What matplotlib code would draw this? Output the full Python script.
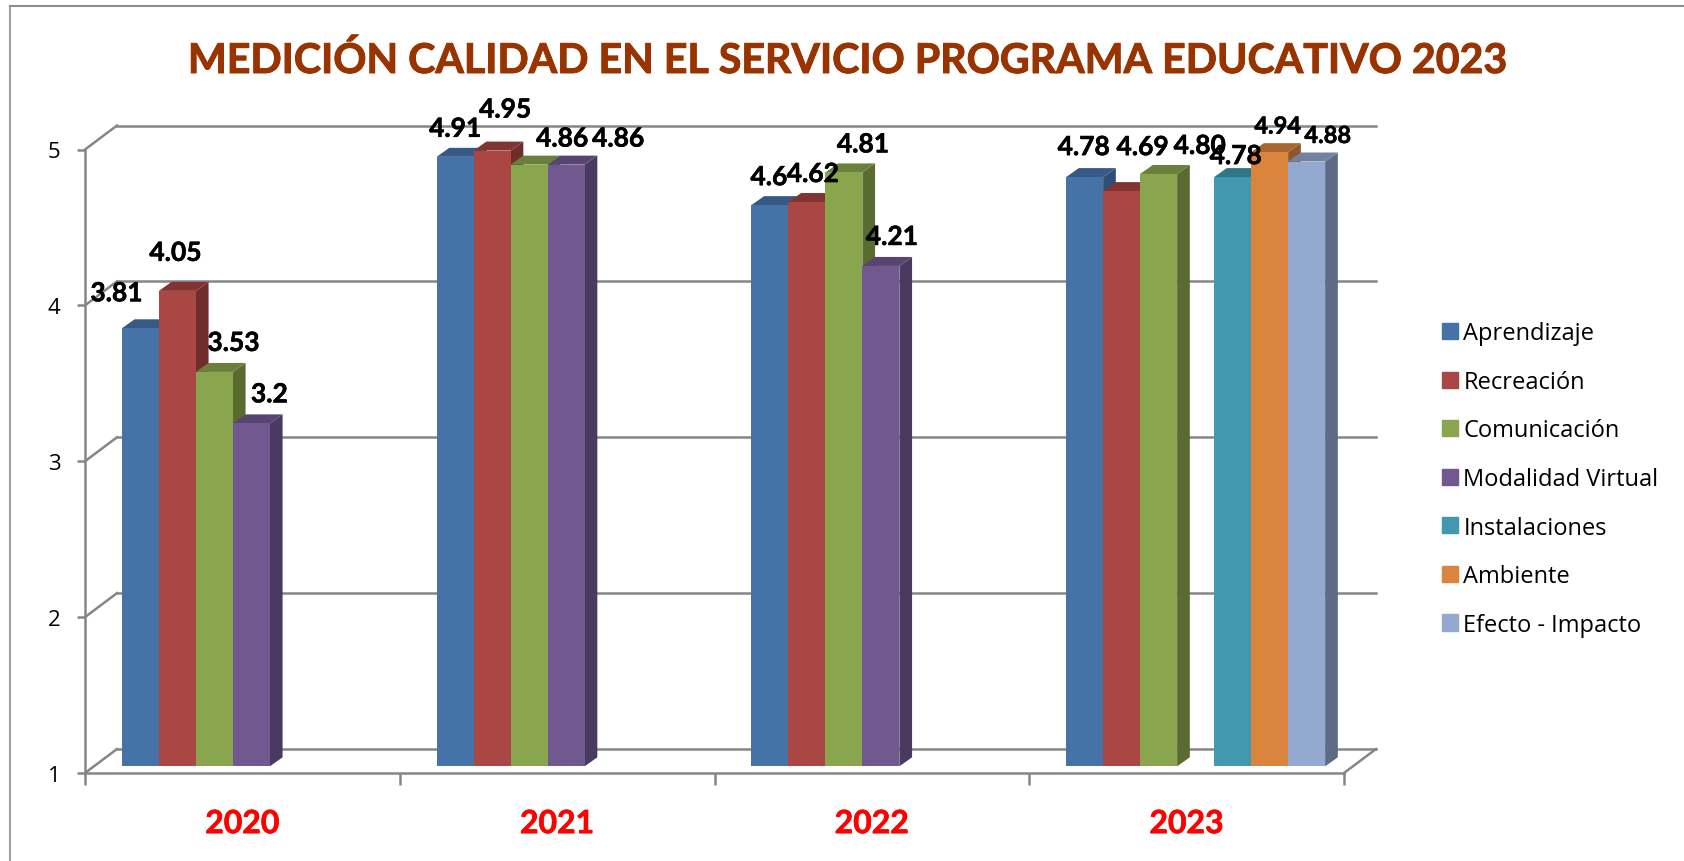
import numpy as np
import matplotlib
matplotlib.use('Agg')
import matplotlib.pyplot as plt
import matplotlib.patheffects as pe
from matplotlib.patches import Polygon

# Data
years = ['2020', '2021', '2022', '2023']
aprendizaje = [3.81, 4.91, 4.6, 4.78]
recreacion = [4.05, 4.95, 4.62, 4.69]
comunicacion = [3.53, 4.86, 4.81, 4.80]
modalidad = [3.2, 4.86, 4.21, None]
instalaciones = [None, None, None, 4.78]
ambiente = [None, None, None, 4.94]
efecto = [None, None, None, 4.88]

series_names = ['Aprendizaje', 'Recreación', 'Comunicación', 'Modalidad Virtual',
                'Instalaciones', 'Ambiente', 'Efecto - Impacto']
series_values = [aprendizaje, recreacion, comunicacion, modalidad,
                 instalaciones, ambiente, efecto]
label_text = [['3.81', '4.91', '4.6', '4.78'],
              ['4.05', '4.95', '4.62', '4.69'],
              ['3.53', '4.86', '4.81', '4.80'],
              ['3.2', '4.86', '4.21', None],
              [None, None, None, '4.78'],
              [None, None, None, '4.94'],
              [None, None, None, '4.88']]

# front, top and side colours of each series
front_colors = ['#4572A7', '#AA4643', '#89A54E', '#71588F', '#4198AF', '#DB843D', '#93A9CF']
top_colors = ['#365A85', '#823432', '#6A803C', '#574470', '#317588', '#A96630', '#7283A2']
side_colors = ['#2F4F76', '#712D2B', '#5A6B31', '#4A3A5F', '#2A6474', '#8F5628', '#5E6B84']

# label offsets from the top centre of each bar, in pixels (same order as series)
label_offsets = [[(-24, 35), (0, 28), (-1, 28), (-1, 30)],
                 [(-2, 38), (13, 41), (6, 28), (21, 44)],
                 [(19, 29), (33, 26), (19, 28), (41, 28)],
                 [(18, 29), (52, 26), (11, 29), None],
                 [None, None, None, (3, 21)],
                 [None, None, None, (8, 26)],
                 [None, None, None, (21, 26)]]

# Layout in pixels, dpi 100
W, H = 1684, 862
AX_LEFT, AX_RIGHT = 85, 1344
AX_BOTTOM, AX_TOP = 774, 150.5
px_x = 4 / (AX_RIGHT - AX_LEFT)
px_y = 4 / (AX_BOTTOM - AX_TOP)

GRAY = '#868686'
LW = 1.8
WALL_DX, WALL_DY = 32 * px_x, 24 * px_y
BAR_DX, BAR_DY = 9 * px_x, 6.7 * px_y
DEPTH_DX, DEPTH_DY = 12.7 * px_x, 9 * px_y
BAR_W = 37 * px_x

plt.rcParams['font.family'] = ['Open Sans', 'DejaVu Sans']

fig = plt.figure(figsize=(W / 100, H / 100), dpi=100, facecolor='white')
ax = fig.add_axes([AX_LEFT / W, 1 - AX_BOTTOM / H, (AX_RIGHT - AX_LEFT) / W, (AX_BOTTOM - AX_TOP) / H])
ax.set_xlim(0, 4)
ax.set_ylim(1, 5)
ax.patch.set_visible(False)

for s in ['top', 'right']:
    ax.spines[s].set_visible(False)
for s in ['left', 'bottom']:
    ax.spines[s].set_color(GRAY)
    ax.spines[s].set_linewidth(LW)

# Back wall and floor lines
for v in range(1, 6):
    ax.plot([WALL_DX, 4 + WALL_DX], [v + WALL_DY, v + WALL_DY], color=GRAY, lw=LW, clip_on=False, zorder=1)
    ax.plot([0, WALL_DX], [v, v + WALL_DY], color=GRAY, lw=LW, clip_on=False, zorder=1)
ax.plot([4, 4 + WALL_DX], [1, 1 + WALL_DY], color=GRAY, lw=LW, clip_on=False, zorder=1)

# Bars, left to right so that each one overlaps the side of the previous
n_series = len(series_names)
group_left = 0.5 - n_series * BAR_W / 2 + BAR_DX
z = 3
for c in range(len(years)):
    for s in range(n_series):
        v = series_values[s][c]
        if v is None:
            continue
        x0 = c + group_left + s * BAR_W
        x1 = x0 + BAR_W
        y0 = 1 + BAR_DY
        y1 = v + BAR_DY
        side = Polygon([(x1, y0), (x1 + DEPTH_DX, y0 + DEPTH_DY), (x1 + DEPTH_DX, y1 + DEPTH_DY), (x1, y1)],
                       facecolor=side_colors[s], edgecolor='none', clip_on=False, zorder=z)
        top = Polygon([(x0, y1), (x1, y1), (x1 + DEPTH_DX, y1 + DEPTH_DY), (x0 + DEPTH_DX, y1 + DEPTH_DY)],
                      facecolor=top_colors[s], edgecolor='none', clip_on=False, zorder=z + 1)
        ax.add_patch(side)
        ax.add_patch(top)
        ax.bar(x0, v - 1, BAR_W, bottom=y0, align='edge', color=front_colors[s], zorder=z + 2, clip_on=False)
        z += 3

# Data labels
for c in range(len(years)):
    for s in range(n_series):
        v = series_values[s][c]
        if v is None:
            continue
        x0 = c + group_left + s * BAR_W
        ox, oy = label_offsets[s][c]
        small = label_text[s][c] in ('4.94', '4.88')
        t = ax.annotate(label_text[s][c], (x0 + BAR_W / 2, v + BAR_DY),
                        xytext=(ox * 0.72, oy * 0.72), textcoords='offset points',
                        ha='center', va='center', family='Lato', fontweight='bold',
                        fontsize=17 if small else 19, color='black', zorder=500, annotation_clip=False)
        t.set_path_effects([pe.withStroke(linewidth=0.4, foreground='black')])

# Axes ticks and labels
ax.set_yticks([1, 2, 3, 4, 5])
ax.tick_params(axis='y', length=5.8, width=LW, color=GRAY, pad=12, labelsize=16)
ax.set_xticks([0, 1, 2, 3, 4])
ax.set_xticklabels([])
ax.tick_params(axis='x', which='major', length=8.6, width=LW, color=GRAY)
ax.set_xticks(np.arange(len(years)) + 0.5, minor=True)
ax.set_xticklabels(years, minor=True, family='Lato', fontweight='bold', fontsize=23, color='#FF0000',
                   path_effects=[pe.withStroke(linewidth=0.5, foreground='#FF0000')])
ax.tick_params(axis='x', which='minor', length=0, pad=26)

# Legend
handles = [plt.Rectangle((0, 0), 1, 1, color=col) for col in front_colors]
fig.legend(handles, series_names, loc='center left', bbox_to_anchor=(1442 / W, 1 - 480 / H),
           frameon=False, fontsize=17, labelspacing=1.04, handlelength=0.68, handleheight=0.68,
           handletextpad=0.22, borderpad=0, borderaxespad=0)

# Title
title = fig.text(847 / W, 1 - 62 / H, 'MEDICIÓN CALIDAD EN EL SERVICIO PROGRAMA EDUCATIVO 2023',
                 ha='center', va='center', family='Lato', fontweight='bold', fontsize=29.6, color='#993300')
title.set_path_effects([pe.withStroke(linewidth=0.7, foreground='#993300')])

# Outer frame
fig.add_artist(plt.Line2D([9.5 / W, 9.5 / W], [0, 1 - 6.5 / H], color='#A0A0A0', lw=1.5))
fig.add_artist(plt.Line2D([9.5 / W, 1], [1 - 6.5 / H, 1 - 6.5 / H], color='#8E8E8E', lw=1.5))

fig.savefig('out.png', dpi=100)
